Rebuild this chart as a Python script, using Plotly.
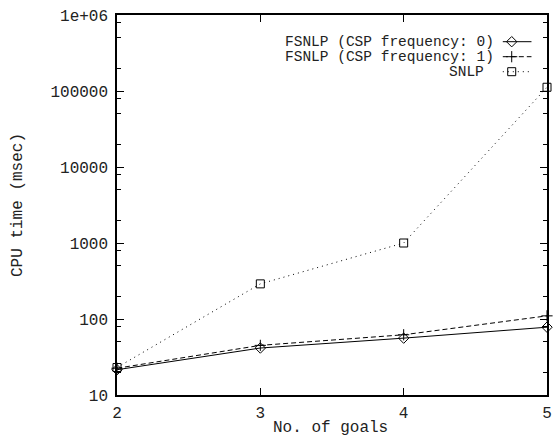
import plotly.graph_objects as go

# Number of goals and measured CPU times (msec)
goals = [2, 3, 4, 5]
fsnlp_freq0 = [21.5, 41.5, 56, 78]
fsnlp_freq1 = [22.5, 45, 62, 110]
snlp = [23, 290, 1000, 112000]

series_names = ["FSNLP (CSP frequency: 0)", "FSNLP (CSP frequency: 1)", "SNLP"]

y_tick_vals = [10, 100, 1000, 10000, 100000, 1000000]
y_tick_text = ["10", "100", "1000", "10000", "100000", "1e+06"]
x_tick_vals = [2, 3, 4, 5]
y_minor_vals = [m * 10 ** k for k in range(1, 6) for m in (2, 5, 8)]

FONT = "Courier New, Liberation Mono, monospace"
FS = 16
KEY_FS = 14.5
TXT = "#222222"

styles = [
    dict(dash="solid", symbol="diamond-open", size=8),
    dict(dash="5px,3px", symbol="cross-thin-open", size=8),
    dict(dash="1px,4px", symbol="square-open", size=8),
]

fig = go.Figure()
for name, vals, st in zip(series_names, [fsnlp_freq0, fsnlp_freq1, snlp], styles):
    fig.add_trace(go.Scatter(
        x=goals, y=vals, name=name, mode="lines+markers",
        line=dict(color="black", width=1, dash=st["dash"]),
        marker=dict(symbol=st["symbol"], size=st["size"], color="black",
                    line=dict(color="black", width=1)),
        cliponaxis=False, showlegend=False,
    ))

# Key drawn in a pixel-space overlay (gnuplot style: text left, sample right)
key_rows = [42.0, 57.0, 72.0]
key_text_right = [500, 500, 490]
for (name, st, ky, kx) in zip(series_names, styles, key_rows, key_text_right):
    fig.add_trace(go.Scatter(
        x=[507, 536], y=[ky, ky], mode="lines", xaxis="x2", yaxis="y2",
        line=dict(color="black", width=1, dash=st["dash"]),
        showlegend=False, hoverinfo="skip", cliponaxis=False,
    ))
    fig.add_trace(go.Scatter(
        x=[516], y=[ky], mode="markers", xaxis="x2", yaxis="y2",
        marker=dict(symbol=st["symbol"], size=st["size"], color="black",
                    line=dict(color="black", width=1)),
        showlegend=False, hoverinfo="skip", cliponaxis=False,
    ))
    fig.add_annotation(
        x=kx, y=ky, xref="x2", yref="y2", text=name, showarrow=False,
        xanchor="right", yanchor="middle",
        font=dict(family=FONT, size=KEY_FS, color=TXT),
    )

fig.update_layout(
    width=555, height=436,
    margin=dict(l=117, r=3, t=15, b=41),
    paper_bgcolor="white", plot_bgcolor="white",
    font=dict(family=FONT, size=FS, color=TXT),
    xaxis=dict(
        range=[2, 5], tickmode="array", tickvals=x_tick_vals,
        ticktext=[str(v) for v in x_tick_vals],
        ticks="inside", ticklen=7, tickwidth=1, tickcolor="black",
        showline=True, linecolor="black", linewidth=1.5, mirror="ticks",
        showgrid=False, zeroline=False, ticklabelstandoff=2,
    ),
    yaxis=dict(
        type="log", range=[1, 6], tickmode="array", tickvals=y_tick_vals,
        ticktext=y_tick_text,
        ticks="inside", ticklen=7, tickwidth=1, tickcolor="black",
        showline=True, linecolor="black", linewidth=1.5, mirror="ticks",
        showgrid=False, zeroline=False, ticklabelstandoff=4,
        minor=dict(tickmode="array", tickvals=y_minor_vals, ticks="inside",
                   ticklen=4, tickwidth=1, tickcolor="black", showgrid=False),
    ),
    xaxis2=dict(range=[116.7, 551.7], overlaying="x", anchor="y2", visible=False),
    yaxis2=dict(range=[395.3, 15.3], overlaying="y", anchor="x2", visible=False),
    annotations=list(fig.layout.annotations) + [
        dict(text="CPU time (msec)", xref="paper", yref="paper", x=0, y=0.5,
             xanchor="center", yanchor="middle", textangle=-90, xshift=-99,
             showarrow=False, font=dict(family=FONT, size=FS, color=TXT)),
        dict(text="No. of goals", xref="paper", yref="paper", x=0.497, y=0,
             xanchor="center", yanchor="middle", yshift=-33,
             showarrow=False, font=dict(family=FONT, size=FS, color=TXT)),
    ],
)

fig.write_html("out.html")
